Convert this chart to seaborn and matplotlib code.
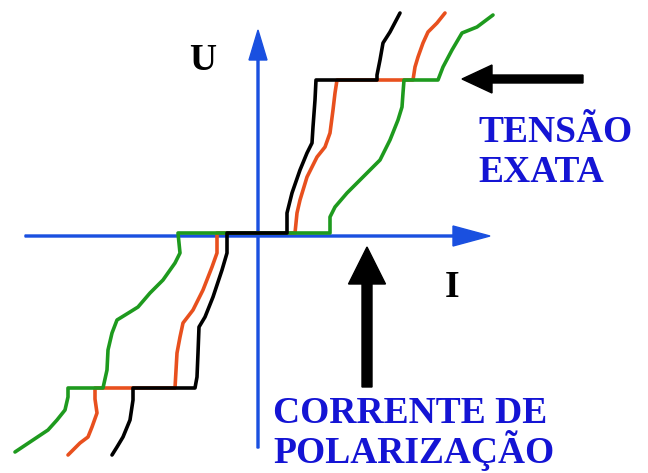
import matplotlib.pyplot as plt
import seaborn as sns
import pandas as pd

# curve points (I, U) in arbitrary units, origin at the axes crossing
black_i = [-146, -141, -135, -128, -125, -125, -63, -61, -60, -59, -53, -45, -36, -31, -31,
           29, 29, 34, 42, 49, 54, 55, 57, 58, 119, 119, 122, 125, 132, 142]
black_u = [-219, -211, -201, -184, -164, -152, -152, -141, -117, -91, -81, -61, -34, -17, 3,
           3, 23, 43, 66, 83, 93, 109, 136, 156, 156, 161, 176, 193, 204, 223]

orange_i = [-190, -178, -170, -166, -161, -163, -163, -83, -81, -78, -75, -65, -55, -46, -41, -41,
            37, 39, 42, 49, 59, 67, 72, 75, 77, 79, 155, 157, 160, 165, 170, 179, 187]
orange_u = [-219, -207, -201, -191, -177, -163, -152, -152, -117, -101, -87, -74, -54, -31, -17, 3,
            3, 23, 36, 59, 79, 89, 103, 126, 143, 156, 156, 169, 179, 193, 204, 213, 223]

green_i = [-243, -225, -210, -201, -193, -190, -190, -155, -151, -150, -146, -141, -128, -120,
           -108, -95, -83, -78, -80, 72, 72, 77, 89, 109, 122, 132, 140, 144, 145, 146, 180,
           185, 194, 204, 219, 235]
green_u = [-216, -204, -194, -184, -174, -161, -152, -152, -134, -114, -97, -84, -76, -71,
           -57, -44, -27, -17, 3, 3, 19, 29, 43, 63, 76, 96, 116, 129, 143, 156, 156,
           169, 186, 203, 209, 221]

curves = {"orange": (orange_i, orange_u), "green": (green_i, green_u), "black": (black_i, black_u)}
colors = {"orange": "#e8501e", "black": "black", "green": "#1e9a1e"}

df = pd.concat(
    [pd.DataFrame({"I": i, "U": u, "curve": name}) for name, (i, u) in curves.items()]
)

sns.set_style("white")
fig = plt.figure(figsize=(6.48, 4.73), dpi=100)
ax = fig.add_axes([0, 0, 1, 1])
ax.set_xlim(-258, 390)
ax.set_ylim(-237, 236)

axis_blue = "#1a50e0"
text_blue = "#1414d4"

# axes with arrows
ax.arrow(-233, 0, 465, 0, width=2, head_width=20, head_length=37,
         length_includes_head=True, color=axis_blue, zorder=1)
ax.arrow(0, -212, 0, 418, width=2, head_width=18, head_length=30,
         length_includes_head=True, color=axis_blue, zorder=1)

# orange underneath, black on top
for name in ["orange", "green", "black"]:
    sns.lineplot(data=df[df["curve"] == name], x="I", y="U", sort=False, estimator=None,
                 color=colors[name], linewidth=2.6, ax=ax, zorder=3)

# pointer arrows
ax.arrow(325, 157, -121, 0, width=8, head_width=28, head_length=30,
         length_includes_head=True, color="black", zorder=4)
ax.arrow(109, -151, 0, 140, width=10, head_width=37, head_length=37,
         length_includes_head=True, color="black", zorder=4)

serif = "Liberation Serif"
ax.text(-55, 176, "U", fontsize=27, fontweight="bold", family=serif, color="black",
        ha="center", va="center")
ax.text(194, -51, "I", fontsize=27, fontweight="bold", family=serif, color="black",
        ha="center", va="center")
ax.text(220, 94, "TENSÃO", fontsize=27, fontweight="bold", family=serif, color=text_blue, va="baseline")
ax.text(220, 54, "EXATA", fontsize=27, fontweight="bold", family=serif, color=text_blue, va="baseline")
ax.text(15, -187, "CORRENTE DE", fontsize=27, fontweight="bold", family=serif, color=text_blue, va="baseline")
ax.text(15, -227, "POLARIZAÇÃO", fontsize=27, fontweight="bold", family=serif, color=text_blue, va="baseline")

ax.axis("off")
plt.savefig("out.png", dpi=100)
